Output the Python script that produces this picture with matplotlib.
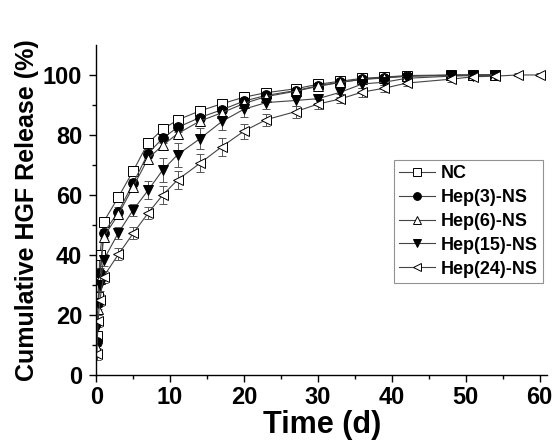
import numpy as np
import matplotlib
matplotlib.use('Agg')
import matplotlib.pyplot as plt

plt.rcParams['font.family'] = ['Liberation Sans', 'DejaVu Sans']
plt.rcParams['font.weight'] = 'bold'

# release time points (days)
t_main = [0.083, 0.25, 0.5, 1, 3, 5, 7, 9, 11, 14, 17, 20, 23, 27, 30, 33, 36, 39, 42, 48, 51, 54]
t_long = t_main + [57, 60]

nc = [13, 26, 40, 51, 59.3, 68, 77.3, 81.9, 85, 88, 90.4, 92.6, 94.1, 95.4, 96.9, 97.9, 98.9, 99.3, 99.8, 100, 100, 100]
hep3 = [11, 24, 34, 47.3, 54.4, 63.9, 73.8, 78.9, 82.5, 85.8, 88.4, 91.3, 93.2, 94.8, 96.4, 97.6, 98.6, 99.1, 99.6, 99.9, 100, 100]
hep6 = [9, 22, 32, 46, 53.5, 62.7, 72.1, 76.6, 80.4, 84.6, 87.4, 90.5, 92.8, 94.6, 96.2, 97.5, 98.5, 99.0, 99.6, 99.9, 100, 100]
hep15 = [16, 24, 30, 38.3, 47.4, 55, 61.5, 68.3, 73.4, 78.7, 84.5, 88.6, 90.8, 91.5, 92.1, 94.2, 97, 97.6, 98.9, 99.6, 99.8, 100]
hep24 = [7, 18, 25, 32.8, 40.2, 47.2, 53.9, 60, 65, 70.5, 76.1, 81.3, 85.1, 87.8, 90.3, 92, 94.3, 95.6, 97.3, 98.6, 99.4, 99.6, 100, 100]

err_nc = [1.5, 1.5, 1.5, 1.2, 1.0, 1.2, 1.2, 1.2, 1.2, 1.2, 1.0, 1.0, 1.0, 1.0, 0.8, 0.8, 0.8, 0.6, 0.6, 0.5, 0.5, 0.5]
err_hep3 = [1.5, 1.5, 1.5, 1.5, 1.5, 1.5, 1.5, 1.5, 1.5, 1.5, 1.2, 1.2, 1.0, 1.0, 1.0, 0.8, 0.8, 0.6, 0.6, 0.5, 0.5, 0.5]
err_hep6 = [1.5, 1.5, 1.5, 1.5, 1.5, 1.5, 1.5, 1.5, 1.5, 1.5, 1.2, 1.2, 1.0, 1.0, 1.0, 0.8, 0.8, 0.6, 0.6, 0.5, 0.5, 0.5]
err_hep15 = [2.0, 2.0, 2.0, 2.0, 2.0, 2.0, 3.0, 4.0, 4.0, 3.5, 3.0, 2.5, 2.0, 1.8, 1.5, 1.5, 1.2, 1.0, 1.0, 0.6, 0.5, 0.5]
err_hep24 = [2.0, 2.0, 2.0, 2.0, 2.0, 2.0, 2.0, 3.0, 3.0, 3.0, 3.0, 2.5, 2.0, 2.0, 1.8, 1.5, 1.5, 1.2, 1.0, 0.8, 0.6, 0.6, 0.5, 0.5]

labels = ['NC', 'Hep(3)-NS', 'Hep(6)-NS', 'Hep(15)-NS', 'Hep(24)-NS']

fig = plt.figure(figsize=(5.56, 4.43), dpi=100)
ax = fig.add_axes([0.173, 0.1535, 0.811, 0.745])

series = [
    (t_main, nc, err_nc, 's', 'white'),
    (t_main, hep3, err_hep3, 'o', 'black'),
    (t_main, hep6, err_hep6, '^', 'white'),
    (t_main, hep15, err_hep15, 'v', 'black'),
    (t_long, hep24, err_hep24, '<', 'white'),
]

for (t, y, e, m, fc), lab in zip(series, labels):
    ax.errorbar(t, y, yerr=e, fmt='-', marker=m, ms=7, mfc=fc, mec='black',
                mew=0.7, color='#444444', lw=0.8, ecolor='#555555',
                elinewidth=0.7, capsize=3, capthick=0.7, label=lab)

ax.set_xlim(0, 61)
ax.set_ylim(0, 110)
ax.set_xticks(np.arange(0, 61, 10))
ax.set_xticks(np.arange(5, 61, 10), minor=True)
ax.set_yticks(np.arange(0, 101, 20))
ax.set_yticks(np.arange(10, 110, 20), minor=True)

ax.spines['top'].set_visible(False)
ax.spines['right'].set_visible(False)
for s in ['left', 'bottom']:
    ax.spines[s].set_linewidth(1.0)
ax.tick_params(which='major', direction='out', length=5, width=1, labelsize=17, pad=3)
ax.tick_params(axis='y', which='major', pad=5)
ax.tick_params(which='minor', direction='out', length=3, width=1)
for lbl in ax.get_xticklabels() + ax.get_yticklabels():
    lbl.set_fontweight('bold')

ax.set_xlabel('Time (d)', fontsize=22, fontweight='bold', labelpad=1)
ax.set_ylabel('Cumulative HGF Release (%)', fontsize=18, fontweight='bold', labelpad=3)

handles, labs = ax.get_legend_handles_labels()
handles = [h[0] for h in handles]
leg = ax.legend(handles, labs, loc='upper right', bbox_to_anchor=(0.991, 0.652),
                fontsize=13, frameon=True, fancybox=False, handlelength=2.0,
                handletextpad=0.3, labelspacing=0.38, borderpad=0.3,
                borderaxespad=0, markerscale=0.8)
leg.get_frame().set_edgecolor('#777777')
leg.get_frame().set_linewidth(0.8)
for txt in leg.get_texts():
    txt.set_fontweight('bold')

fig.savefig('out.png', dpi=100)
